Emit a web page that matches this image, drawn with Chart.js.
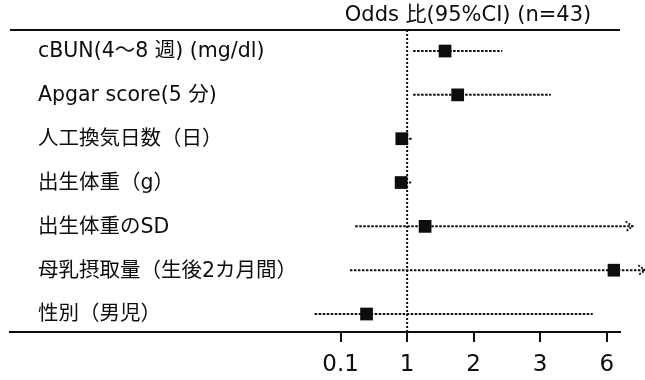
<!DOCTYPE html>
<html>
<head>
<meta charset="utf-8">
<script src="https://cdn.jsdelivr.net/npm/chart.js@4.4.0/dist/chart.umd.min.js"></script>
<style>
  body { margin: 0; background: #fff; }
  #wrap { width: 645px; height: 380px; }
</style>
</head>
<body>
<div id="wrap"><canvas id="chart" width="645" height="380"></canvas></div>
<script>
// Row labels, top to bottom
const rowLabels = [
    "cBUN(4～8 週) (mg/dl)",
    "Apgar score(5 分)",
    "人工換気日数（日）",
    "出生体重（g）",
    "出生体重のSD",
    "母乳摂取量（生後2カ月間）",
    "性別（男児）"
];

// Tick labels; the axis is not proportional, tick k sits at position k
const tickLabels = ["0.1", "1", "2", "3", "6"];

// Odds ratios and 95% CI in axis-position units
const oddsRatio = [1.57, 1.76, 0.92, 0.91, 1.27, 4.11, 0.39];
const ciLower   = [1.09, 1.09, 0.85, 0.85, 0.22, 0.14, -0.39];
const ciUpper   = [2.43, 3.16, 1.07, 1.06, 4.39, 4.58, 3.79];
const ciArrow   = [false, false, false, false, true, true, false];

const titleText = "Odds 比(95%CI) (n=43)";

const FONT = '"DejaVu Sans", "Noto Sans CJK JP", sans-serif';
const INK = "#0d0d0d";

// Y range so rows land at even spacing between the two rules
const yMin = -0.48;
const yMax = 6.41;

const datasets = [];

// Point estimates (first so they draw on top)
datasets.push({
    label: "Odds ratio",
    data: oddsRatio.map((v, i) => ({ x: v, y: i })),
    pointStyle: "rect",
    pointRadius: 9,
    pointHoverRadius: 9,
    backgroundColor: INK,
    borderWidth: 0,
    showLine: false
});

// Confidence intervals
ciLower.forEach((lo, i) => {
    datasets.push({
        label: "CI " + i,
        data: [{ x: lo, y: i }, { x: ciUpper[i], y: i }],
        showLine: true,
        borderColor: INK,
        borderWidth: 2,
        borderDash: [2.5, 1.5],
        pointRadius: 0,
        clip: false
    });
});

// Reference line at OR = 1
datasets.push({
    label: "ref",
    data: [{ x: 1, y: yMin }, { x: 1, y: yMax }],
    showLine: true,
    borderColor: INK,
    borderWidth: 2,
    borderDash: [2, 2],
    pointRadius: 0
});

// Draws the top rule, title, row labels and the open arrow heads
const forestDecor = {
    id: "forestDecor",
    afterDraw(chart) {
        const { ctx, chartArea, scales } = chart;
        const xs = scales.x, ys = scales.y;
        ctx.save();

        ctx.strokeStyle = INK;
        ctx.lineWidth = 2;
        ctx.beginPath();
        ctx.moveTo(chartArea.left, chartArea.top);
        ctx.lineTo(chartArea.right, chartArea.top);
        ctx.stroke();

        ctx.fillStyle = INK;
        ctx.font = "21px " + FONT;
        ctx.textAlign = "center";
        ctx.textBaseline = "middle";
        ctx.fillText(titleText, 468, 16);

        ctx.font = "20.5px " + FONT;
        ctx.textAlign = "left";
        rowLabels.forEach((lab, i) => {
            ctx.fillText(lab, 38, ys.getPixelForValue(i) + 1);
        });

        ctx.lineWidth = 1.8;
        ctx.setLineDash([2, 1.5]);
        ciArrow.forEach((a, i) => {
            if (!a) return;
            const px = xs.getPixelForValue(ciUpper[i]);
            const py = ys.getPixelForValue(i);
            ctx.beginPath();
            ctx.moveTo(px - 7, py - 5);
            ctx.lineTo(px, py);
            ctx.lineTo(px - 7, py + 5);
            ctx.stroke();
        });

        ctx.restore();
    }
};

new Chart(document.getElementById("chart"), {
    type: "scatter",
    data: { datasets: datasets },
    plugins: [forestDecor],
    options: {
        responsive: false,
        animation: false,
        events: [],
        layout: { padding: { left: 10, right: 25, top: 30, bottom: 0 } },
        plugins: {
            legend: { display: false },
            tooltip: { enabled: false },
            title: { display: false }
        },
        scales: {
            x: {
                type: "linear",
                min: -4.97,
                max: 4.2,
                afterBuildTicks: (axis) => {
                    axis.ticks = tickLabels.map((t, k) => ({ value: k }));
                },
                afterFit: (axis) => {
                    axis.height = 48;
                },
                ticks: {
                    autoSkip: false,
                    maxRotation: 0,
                    padding: 9,
                    color: INK,
                    font: { family: FONT, size: 23 },
                    callback: (v) => tickLabels[v]
                },
                grid: {
                    drawOnChartArea: false,
                    drawTicks: true,
                    tickLength: 10,
                    color: INK,
                    lineWidth: 2
                },
                border: { display: true, color: INK, width: 2 }
            },
            y: {
                type: "linear",
                reverse: true,
                min: yMin,
                max: yMax,
                display: false
            }
        }
    }
});
</script>
</body>
</html>
